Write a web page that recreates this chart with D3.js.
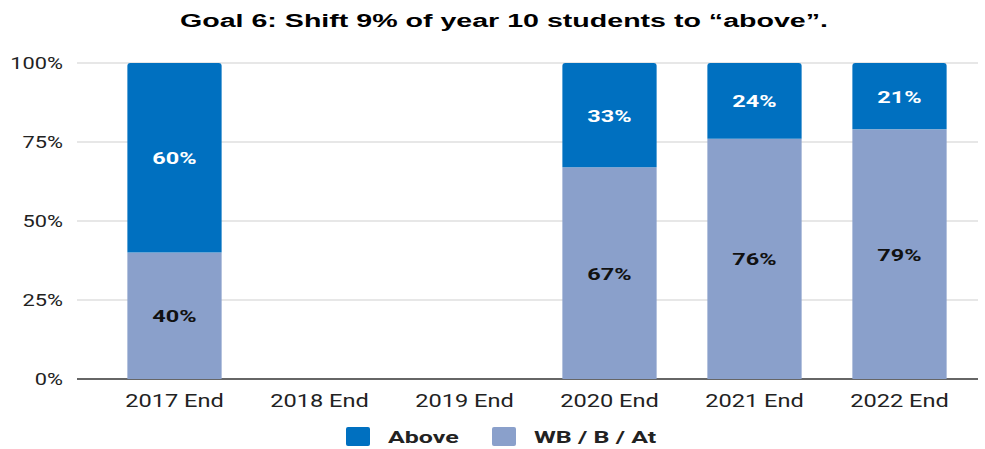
<!DOCTYPE html>
<html>
<head>
<meta charset="utf-8">
<script src="https://cdn.jsdelivr.net/npm/d3@7"></script>
<style>
  body { margin: 0; background: #fff; }
  svg text { font-family: Roboto, "Liberation Sans", sans-serif; }
</style>
</head>
<body>
<div id="chart"></div>
<script>
var categories = ["2017 End", "2018 End", "2019 End", "2020 End", "2021 End", "2022 End"];
var above = [60, null, null, 33, 24, 21];
var wbBAt = [40, null, null, 67, 76, 79];
var yTicks = [0, 25, 50, 75, 100];
var seriesNames = ["Above", "WB / B / At"];
var seriesColors = ["#0070c0", "#8aa0cb"];

var width = 985, height = 449;
var margin = {left: 77, right: 7, top: 63, bottom: 70};

// text in the picture is drawn wider than normal, stretch it the same way
var stretch = 1.36;
function widen(sel, f) {
  sel.each(function() {
    var w = this.getComputedTextLength();
    d3.select(this).attr("textLength", w * (f || stretch)).attr("lengthAdjust", "spacingAndGlyphs");
  });
}

var svg = d3.select("#chart").append("svg")
    .attr("width", width)
    .attr("height", height);

var x = d3.scaleBand()
    .domain(categories)
    .range([102, 972])
    .paddingInner(0.35)
    .paddingOuter(0.175);

var y = d3.scaleLinear()
    .domain([0, 100])
    .range([height - margin.bottom, margin.top]);

// title
svg.append("text")
    .attr("x", 504)
    .attr("y", 27)
    .attr("text-anchor", "middle")
    .style("font-family", "'Liberation Sans', Arial, sans-serif")
    .style("font-weight", "bold")
    .style("font-size", "18px")
    .style("fill", "#000")
    .text("Goal 6: Shift 9% of year 10 students to \u201cabove\u201d.")
    .attr("textLength", 648)
    .attr("lengthAdjust", "spacingAndGlyphs");

// gridlines
svg.append("g").selectAll("line")
    .data(yTicks)
  .enter().append("line")
    .attr("x1", margin.left)
    .attr("x2", width - margin.right)
    .attr("y1", function(d) { return y(d); })
    .attr("y2", function(d) { return y(d); })
    .style("stroke", function(d) { return d === 0 ? "#333" : "#cfcfcf"; })
    .style("stroke-width", function(d) { return d === 0 ? 1.5 : 1; });

// y labels
var yl = svg.append("g").selectAll("text")
    .data(yTicks)
  .enter().append("text")
    .attr("x", 63)
    .attr("y", function(d) { return y(d) + 5.5; })
    .attr("text-anchor", "end")
    .style("font-size", "16px")
    .style("fill", "#222")
    .text(function(d) { return d + "%"; });
widen(yl);

// x labels
var xl = svg.append("g").selectAll("text")
    .data(categories)
  .enter().append("text")
    .attr("x", function(d) { return x(d) + x.bandwidth() / 2; })
    .attr("y", 407)
    .attr("text-anchor", "middle")
    .style("font-size", "18px")
    .style("fill", "#222")
    .text(function(d) { return d; });
widen(xl, 1.31);

// rounded top only
function topRounded(x0, y0, w, h, r) {
  r = Math.min(r, h);
  return "M" + x0 + "," + (y0 + h) +
    "V" + (y0 + r) + "Q" + x0 + "," + y0 + " " + (x0 + r) + "," + y0 +
    "H" + (x0 + w - r) + "Q" + (x0 + w) + "," + y0 + " " + (x0 + w) + "," + (y0 + r) +
    "V" + (y0 + h) + "Z";
}

var rows = categories.map(function(c, i) {
  return {cat: c, above: above[i], wb: wbBAt[i]};
}).filter(function(d) { return d.above != null; });

var bars = svg.append("g");
// lower segment
bars.selectAll(".wb")
    .data(rows)
  .enter().append("rect")
    .attr("class", "wb")
    .attr("x", function(d) { return x(d.cat); })
    .attr("width", x.bandwidth())
    .attr("y", function(d) { return y(d.wb); })
    .attr("height", function(d) { return y(0) - y(d.wb); })
    .style("fill", seriesColors[1]);
// upper segment
bars.selectAll(".above")
    .data(rows)
  .enter().append("path")
    .attr("class", "above")
    .attr("d", function(d) {
      return topRounded(x(d.cat), y(d.wb + d.above), x.bandwidth(), y(d.wb) - y(d.wb + d.above), 3);
    })
    .style("fill", seriesColors[0]);

// value labels
var lb = svg.append("g").selectAll("text")
    .data(rows)
  .enter().append("text")
    .attr("x", function(d) { return x(d.cat) + x.bandwidth() / 2; })
    .attr("y", function(d) { return y(d.wb + d.above / 2) + 6.5; })
    .attr("text-anchor", "middle")
    .style("font-size", "17px")
    .style("font-weight", "bold")
    .style("fill", "#fff")
    .text(function(d) { return d.above + "%"; });
widen(lb, 1.38);
var lb2 = svg.append("g").selectAll("text")
    .data(rows)
  .enter().append("text")
    .attr("x", function(d) { return x(d.cat) + x.bandwidth() / 2; })
    .attr("y", function(d) { return y(d.wb / 2) + 6.5; })
    .attr("text-anchor", "middle")
    .style("font-size", "17px")
    .style("font-weight", "bold")
    .style("fill", "#111")
    .text(function(d) { return d.wb + "%"; });
widen(lb2, 1.38);

// legend
var legX = [346, 492];
var leg = svg.append("g").selectAll("g")
    .data(seriesNames)
  .enter().append("g")
    .attr("transform", function(d, i) { return "translate(" + legX[i] + ",427)"; });
leg.append("rect")
    .attr("width", 24)
    .attr("height", 19)
    .attr("rx", 2)
    .style("fill", function(d, i) { return seriesColors[i]; });
var lt = leg.append("text")
    .attr("x", 42)
    .attr("y", 16)
    .style("font-size", "17px")
    .style("font-weight", "bold")
    .style("fill", "#222")
    .text(function(d) { return d; });
widen(lt, 1.47);
</script>
</body>
</html>
